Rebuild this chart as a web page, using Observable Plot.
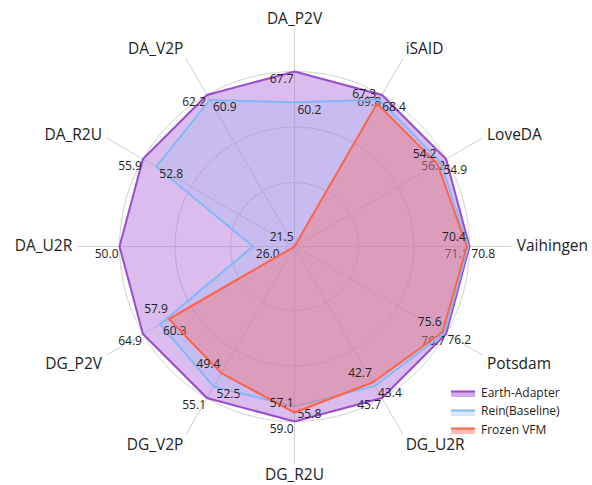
<!DOCTYPE html>
<html><head><meta charset="utf-8">
<script src="https://cdn.jsdelivr.net/npm/d3@7"></script>
<script src="https://cdn.jsdelivr.net/npm/@observablehq/plot@0.6"></script>
<style>
body{margin:0;background:#fff;font-family:"Open Sans",sans-serif;}
#wrap{position:relative;width:592px;height:485px;overflow:hidden}
#legend{position:absolute;left:451px;top:383px;font-size:12px;color:#222;font-family:"Open Sans",sans-serif}
.item{display:flex;align-items:center;height:18.5px;white-space:nowrap}
.item svg{margin-right:6px}
</style></head><body><div id="wrap"><div id="chart"></div><div id="legend"></div></div>
<script>
// categories (clockwise from top)
const axes = ["DA_P2V","iSAID","LoveDA","Vaihingen","Potsdam","DG_U2R","DG_R2U","DG_V2P","DG_P2V","DA_U2R","DA_R2U","DA_V2P"];
// series values (mIoU)
const earthAdapter = [67.7,69.8,56.2,71.1,76.7,45.7,59.0,55.1,64.9,50.0,55.9,62.2];
const rein         = [60.2,68.4,54.9,70.8,76.2,43.4,55.8,52.5,60.3,26.0,52.8,60.9];
const frozenVFM    = [21.5,67.3,54.2,70.4,75.6,42.7,57.1,49.4,57.9,null,null,null];
const seriesNames = ["Earth-Adapter","Rein(Baseline)","Frozen VFM"];
// radial axis (score relative to Earth-Adapter)
const radialMin = 0.37;
const radialTicks = [0.4,0.6,0.8,1.0];

const lineColors = ["#9a4ccf","#85b9f5","#ff6347"];
const fillColors = ["#a557d4","#85b9f5","#ff6a63"];
const fillOpac = [0.4,0.22,0.36];
const labelStyle = [
  {textAnchor:"end", dx:-1, dy:7.5},
  {textAnchor:"start", dx:3, dy:7.5},
  {textAnchor:"end", dx:-1, dy:-9.5}
];

const deg = Math.PI/180;
const step = 360/axes.length;
const norm = t => (t - radialMin)/(1 - radialMin);
function rho(v,i){ if (v == null) return 0; return Math.max(0, norm(v/earthAdapter[i])); }

const seriesValues = [earthAdapter, rein, frozenVFM];
const pts = seriesValues.map((vals,s) => vals.map((v,i) => {
  const r = rho(v,i), a = i*step*deg;
  return {series: seriesNames[s], axis: axes[i], value: v, x: r*Math.sin(a), y: r*Math.cos(a)};
}));

const rings = radialTicks.flatMap(t => d3.range(0, 361, 2).map(d => {
  const r = norm(t); return {t, x: r*Math.sin(d*deg), y: r*Math.cos(d*deg)};
}));
const tickOuter = 1.24, labelR = 1.27;
const spokes = axes.map((name,i) => ({name, sx: Math.sin(i*step*deg), cy: Math.cos(i*step*deg)}));
spokes.forEach(d => {
  d.ta = d.sx > 0.1 ? "start" : d.sx < -0.1 ? "end" : "middle";
  d.la = d.cy > 0.6 ? "bottom" : d.cy < -0.1 ? "top" : "middle";
});

const marks = [
  Plot.line(rings.filter(d => d.t < 1), {x:"x", y:"y", z:"t", stroke:"#d6d6d6", strokeWidth:1}),
  Plot.link(spokes, {x1:0, y1:0, x2:"sx", y2:"cy", stroke:"#d6d6d6", strokeWidth:1}),
  Plot.line(rings.filter(d => d.t === 1), {x:"x", y:"y", stroke:"#d2d2d2", strokeWidth:1}),
  Plot.link(spokes, {x1:"sx", y1:"cy", x2: d => d.sx*tickOuter, y2: d => d.cy*tickOuter, stroke:"#d0d0d0", strokeWidth:1})
];
pts.forEach((p,s) => {
  marks.push(Plot.line(p, {x:"x", y:"y", curve:"linear-closed", fill:fillColors[s], fillOpacity:fillOpac[s],
    stroke:lineColors[s], strokeWidth:2, strokeLinejoin:"miter", strokeMiterlimit:4}));
  marks.push(Plot.text(p.filter(d => d.value != null), {x:"x", y:"y", text: d => d.value.toFixed(1),
    fontSize:12, fill:"#222", ...labelStyle[s]}));
});
const combos = d3.groups(spokes, d => d.ta + "|" + d.la);
combos.forEach(([k, arr]) => {
  marks.push(Plot.text(arr, {x: d => d.sx*labelR, y: d => d.cy*labelR, text:"name",
    textAnchor: arr[0].ta, lineAnchor: arr[0].la, fontSize:15.5, fill:"#222"}));
});

const chart = Plot.plot({
  width: 592, height: 485,
  marginLeft: 119, marginRight: 123, marginTop: 71, marginBottom: 64,
  x: {domain:[-1,1], axis:null},
  y: {domain:[-1,1], axis:null},
  style: {fontFamily:'"Open Sans", sans-serif', background:"#fff", overflow:"visible"},
  marks
});
document.getElementById("chart").appendChild(chart);

const legend = document.getElementById("legend");
seriesNames.forEach((n,s) => {
  const it = document.createElement("div"); it.className = "item";
  it.innerHTML = `<svg width="24" height="12"><rect x="0" y="6" width="24" height="5" fill="${fillColors[s]}" fill-opacity="${fillOpac[s]+0.1}"></rect><line x1="0" x2="24" y1="5.5" y2="5.5" stroke="${lineColors[s]}" stroke-width="2"></line></svg><span>${n}</span>`;
  legend.appendChild(it);
});
</script></body></html>
